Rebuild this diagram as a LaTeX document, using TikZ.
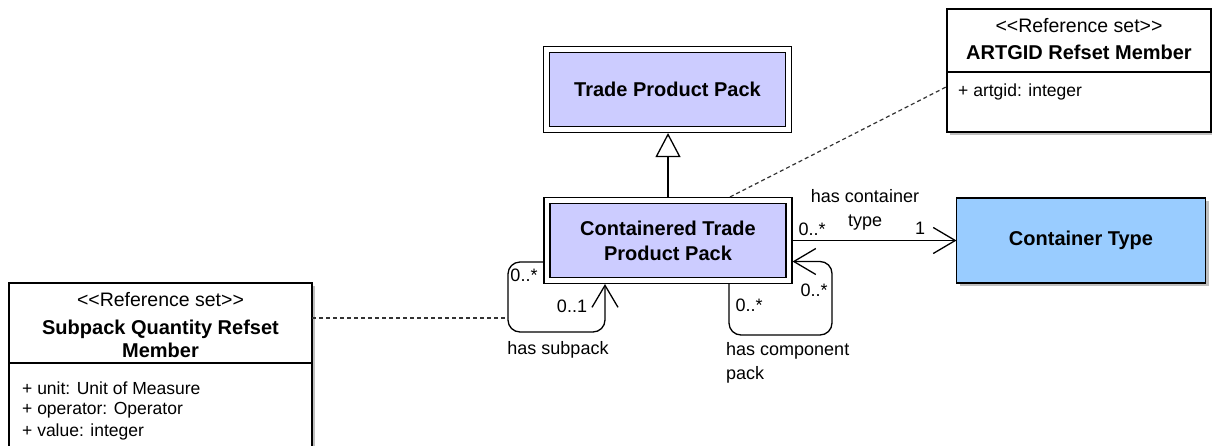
\documentclass[tikz,border=0pt]{standalone}
\usepackage{fontspec}
\setmainfont{Liberation Sans}[Ligatures=TeXOff]
\usetikzlibrary{arrows.meta,shadows,calc}
\definecolor{packfill}{HTML}{CCCCFF}
\definecolor{ctfill}{HTML}{99CCFF}
\begin{document}
\begin{tikzpicture}[x=1pt,y=-1pt,
 shadowed/.style={drop shadow={shadow xshift=3pt, shadow yshift=-3pt, opacity=0.25, fill=black}},
 pack/.style={shadowed, draw=black, line width=1.3pt, double=white, double distance=4.5pt, fill=packfill, minimum width=242pt, minimum height=80pt, inner sep=0pt, outer sep=3.55pt, align=center, font=\bfseries\fontsize{20}{25}\selectfont},
 ctype/.style={shadowed, draw=black, line width=1.3pt, fill=ctfill, minimum width=249pt, minimum height=85pt, inner sep=0pt, outer sep=0pt, font=\bfseries\fontsize{20}{25}\selectfont},
 refbox/.style={shadowed, draw=black, line width=1.3pt, fill=white, inner sep=0pt, outer sep=0pt},
 stereo/.style={font=\fontsize{19.5}{24}\selectfont, inner sep=0pt},
 cname/.style={font=\bfseries\fontsize{20}{23}\selectfont, inner sep=0pt, align=center},
 attr/.style={font=\fontsize{17.5}{22}\selectfont, inner sep=0pt, anchor=west},
 lbl/.style={font=\fontsize{18}{24}\selectfont, inner sep=0pt, align=center},
 assoc/.style={draw=black, line width=1.3pt},
 navarrow/.style={-{Straight Barb[length=22pt,width=26pt]}},
 gen/.style={-{Triangle[open,length=24pt,width=25pt,fill=white]}},
 dashlink/.style={draw=black!80, line width=1.2pt, dash pattern=on 4pt off 3pt},
]
\clip (0,0) rectangle (1212,445);
\fill[white] (0,0) rectangle (1212,445);

\node[pack] (tpp) at (667.5,89.5) {Trade Product Pack};
\node[pack] (ctpp) at (668,240.5) {Containered Trade\\Product Pack};
\node[ctype] (ct) at (1081,240.5) {Container Type};
\node[refbox, minimum width=264pt, minimum height=123pt] (art) at (1079,70.5) {};
\node[refbox, minimum width=303pt, minimum height=180pt, anchor=north west] (sub) at (9,283) {};

% dividers
\draw[line width=1.3pt] ([yshift=-63pt]art.north west) -- ([yshift=-63pt]art.north east);
\draw[line width=1.3pt] ([yshift=-80pt]sub.north west) -- ([yshift=-80pt]sub.north east);

% ARTGID texts
\node[stereo] (artst) at (1079,26) {<<Reference set>>};
\node[cname] (artnm) at (1079,52) {ARTGID Refset Member};
\node[attr] (arta) at (958,92) {+ artgid: integer};

% Subpack texts
\node[stereo] (subst) at (160.5,300) {<<Reference set>>};
\node[cname] (subnm) at (160.5,338.5) {Subpack Quantity Refset\\Member};
\node[attr] (suba1) at (22,388) {+ unit: Unit of Measure};
\node[attr] (suba2) at (22,410) {+ operator: Operator};
\node[attr] (suba3) at (22,432) {+ value: integer};

% generalization
\draw[assoc, gen] (ctpp.north) -- (ctpp.north |- tpp.south);

% association to container type
\draw[assoc, navarrow] (ctpp.east) -- (ct.west);

% has subpack loop
\draw[assoc, navarrow, rounded corners=12pt] ([yshift=-21.5pt]ctpp.west) -- (508,262) -- (508,332) -- (605,332) -- ([xshift=-63pt]ctpp.south);

% has component pack loop
\draw[assoc, navarrow, rounded corners=12pt] ([xshift=61pt]ctpp.south) -- (729,335) -- (832,335) -- (832,261.5) -- ([yshift=-21pt]ctpp.east);

% association class links
\coordinate (subloop) at (508,318);
\draw[dashlink] ([yshift=-35pt]sub.north east) -- (subloop);
\draw[dashlink] ([xshift=62pt]ctpp.north) -- ([yshift=-16pt]art.west);

% labels
\node[lbl] (m1) at (524,275) {0..*};
\node[lbl] (m2) at (572,306) {0..1};
\node[lbl] (n1) at (558,350) {has subpack};
\node[lbl] (m3) at (749,305) {0..*};
\node[lbl] (m4) at (814,290) {0..*};
\node[lbl, align=left, anchor=west] (n2) at (726,362.5) {has component\\pack};
\node[lbl] (n3) at (865,210) {has container\\type};
\node[lbl] (m5) at (812,229) {0..*};
\node[lbl] (m6) at (920,228) {1};
\end{tikzpicture}
\end{document}
